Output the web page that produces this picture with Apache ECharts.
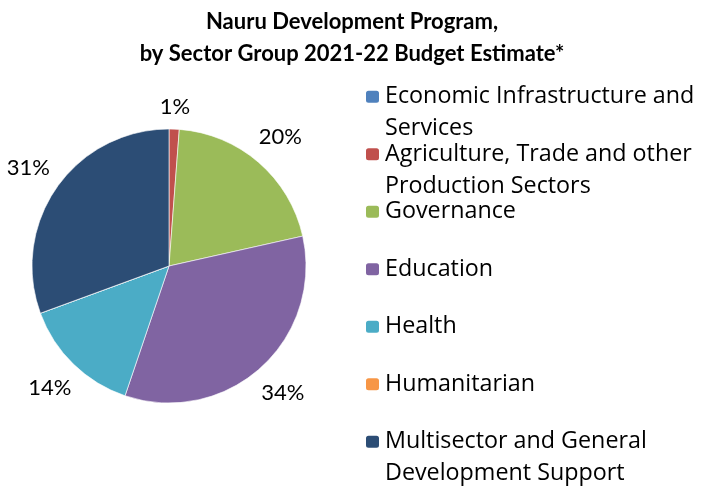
<!DOCTYPE html>
<html>
<head>
<meta charset="utf-8">
<script src="https://cdn.jsdelivr.net/npm/echarts@6/dist/echarts.min.js"></script>
<style>html,body{margin:0;padding:0;background:#fff}#c{width:704px;height:488px}</style>
</head>
<body>
<div id="c"></div>
<script>
const categories = [
  'Economic Infrastructure and Services',
  'Agriculture, Trade and other Production Sectors',
  'Governance',
  'Education',
  'Health',
  'Humanitarian',
  'Multisector and General Development Support'
];
const values = [0, 1.2, 20.3, 33.7, 14.2, 0, 30.6];
const colors = ['#4F81BD', '#C0504D', '#9BBB59', '#8064A2', '#4BACC6', '#F79646', '#2C4D75'];
const legendText = [
  ['Economic Infrastructure and', 'Services'],
  ['Agriculture, Trade and other', 'Production Sectors'],
  ['Governance', ' '],
  ['Education', ' '],
  ['Health', ' '],
  ['Humanitarian', ' '],
  ['Multisector and General', 'Development Support']
];
const titleText = 'Nauru Development Program,\nby Sector Group 2021-22 Budget Estimate*';

const FONT = 'Lato';
const LEGEND_FONT = 'Open Sans';
const CX = 169, CY = 266, R = 137;
const LABEL_GAP = 10, LABEL_HALF_H = 12;

const chart = echarts.init(document.getElementById('c'), null, {renderer: 'canvas'});

const pieData = categories.map((n, i) => ({
  name: n, value: values[i], itemStyle: {color: colors[i]}
}));
const labelData = categories.map((n, i) => ({
  name: n, value: values[i], label: {show: values[i] > 0}
}));

const LH = 32;
const legends = categories.map((n, i) => ({
  orient: 'vertical',
  left: 364,
  top: 96.7 + i * 57.5 - 1.5 * LH,
  padding: 0,
  itemWidth: 15,
  itemHeight: 14,
  itemGap: 0,
  selectedMode: false,
  data: [n],
  formatter: () => '\n' + legendText[i][0] + '\n' + legendText[i][1],
  textStyle: {fontFamily: LEGEND_FONT, fontSize: 23.3, lineHeight: LH, color: '#000'}
}));

// Excel-like "outside end" placement: push each label out along its slice's mid-angle
function outsideEnd(p) {
  const r = p.labelRect;
  const mx = r.x + r.width / 2, my = r.y + r.height / 2;
  const a = Math.atan2(mx - CX, CY - my);
  const s = Math.sin(a), c = Math.cos(a);
  const d = R + LABEL_GAP + (r.width / 2) * Math.abs(s) + LABEL_HALF_H * Math.abs(c);
  return {x: CX + d * s, y: CY - d * c, align: 'center', verticalAlign: 'middle'};
}

chart.setOption({
  animation: false,
  color: colors,
  title: {
    text: titleText,
    left: 'center',
    top: 6,
    padding: 0,
    textStyle: {fontFamily: FONT, fontSize: 22, fontWeight: 'bold', lineHeight: 32, color: '#000'}
  },
  legend: legends,
  series: [
    {
      type: 'pie',
      center: [CX, CY],
      radius: R,
      startAngle: 90,
      clockwise: true,
      avoidLabelOverlap: false,
      label: {show: false},
      labelLine: {show: false},
      itemStyle: {borderColor: '#fff', borderWidth: 0.6},
      data: pieData
    },
    {
      type: 'pie',
      center: [CX, CY],
      radius: [R, R + 66],
      startAngle: 90,
      clockwise: true,
      silent: true,
      avoidLabelOverlap: false,
      itemStyle: {color: 'rgba(0,0,0,0)', borderWidth: 0},
      label: {
        show: true,
        position: 'inside',
        fontFamily: FONT,
        fontSize: 22,
        color: '#000',
        formatter: p => Math.round(p.percent) + '%'
      },
      labelLayout: outsideEnd,
      labelLine: {show: false},
      data: labelData
    }
  ]
});
</script>
</body>
</html>
